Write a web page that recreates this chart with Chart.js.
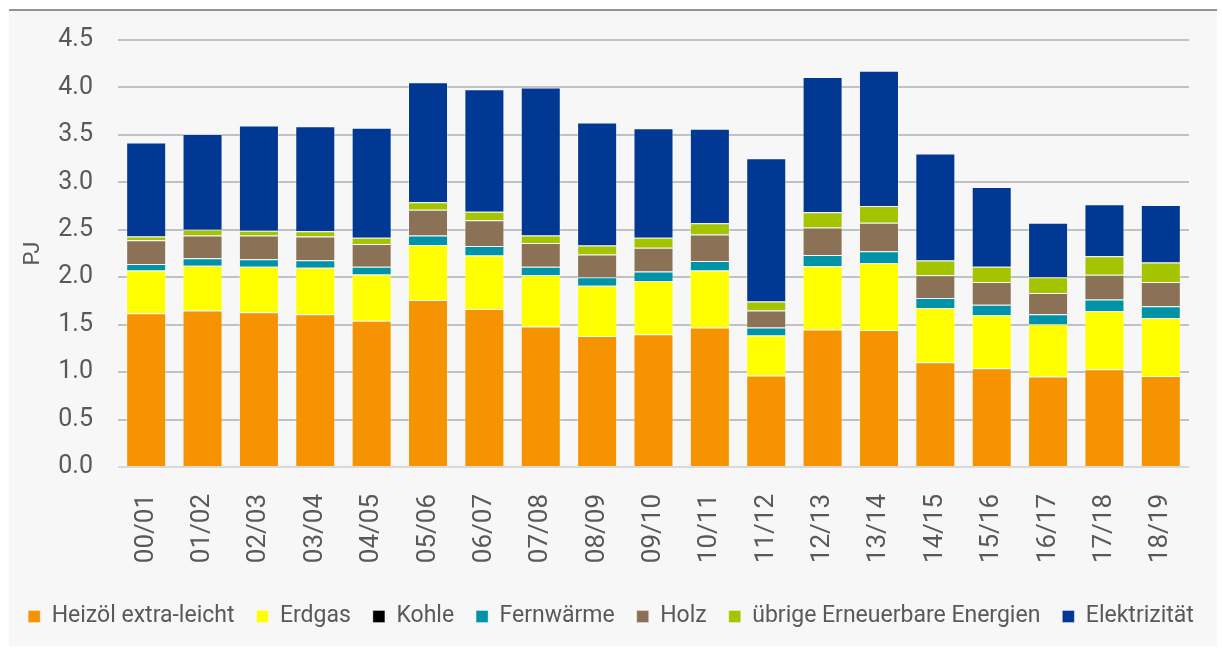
<!DOCTYPE html>
<html>
<head>
<meta charset="utf-8">
<script src="https://cdn.jsdelivr.net/npm/chart.js@4/dist/chart.umd.min.js"></script>
<style>
html,body{margin:0;padding:0;background:#ffffff;}
#wrap{position:absolute;left:0;top:0;width:1222px;height:648px;}
</style>
</head>
<body>
<div id="wrap"><canvas id="c" width="1222" height="648"></canvas></div>
<script>
const categories = ['00/01','01/02','02/03','03/04','04/05','05/06','06/07','07/08','08/09','09/10','10/11','11/12','12/13','13/14','14/15','15/16','16/17','17/18','18/19'];
const heizoel = [1.62,1.65,1.63,1.61,1.54,1.76,1.665,1.48,1.38,1.40,1.47,0.965,1.45,1.445,1.105,1.04,0.955,1.03,0.96];
const erdgas = [0.45,0.47,0.48,0.49,0.49,0.58,0.565,0.54,0.53,0.56,0.60,0.42,0.665,0.705,0.57,0.56,0.55,0.615,0.61];
const kohle = [0,0,0,0,0,0,0,0,0,0,0,0,0,0,0,0,0,0,0];
const fernwaerme = [0.07,0.08,0.08,0.08,0.08,0.10,0.10,0.09,0.09,0.10,0.10,0.085,0.12,0.125,0.105,0.11,0.105,0.12,0.125];
const holz = [0.25,0.24,0.25,0.25,0.24,0.27,0.27,0.25,0.24,0.25,0.28,0.18,0.29,0.30,0.24,0.24,0.225,0.26,0.255];
const uebrige = [0.04,0.06,0.05,0.055,0.065,0.08,0.09,0.08,0.095,0.105,0.12,0.095,0.16,0.175,0.155,0.16,0.165,0.195,0.205];
const elektrizitaet = [0.99,1.01,1.11,1.105,1.16,1.265,1.29,1.56,1.295,1.155,0.995,1.51,1.425,1.425,1.13,0.84,0.575,0.55,0.605];
const yTicks = [0,0.5,1.0,1.5,2.0,2.5,3.0,3.5,4.0,4.5];

const seriesNames = ['Heizöl extra-leicht','Erdgas','Kohle','Fernwärme','Holz','übrige Erneuerbare Energien','Elektrizität'];
const seriesData = [heizoel, erdgas, kohle, fernwaerme, holz, uebrige, elektrizitaet];
const seriesColors = ['#F59300','#FFFF00','#000000','#0093A8','#8B7155','#A5C400','#003893'];

const panel = {
  id: 'panel',
  beforeDraw(chart) {
    const ctx = chart.ctx;
    ctx.save();
    ctx.fillStyle = '#f7f7f7';
    ctx.fillRect(9, 10, 1208, 636);
    ctx.strokeStyle = '#6b7280';
    ctx.lineWidth = 1.5;
    ctx.beginPath();
    ctx.moveTo(9, 10);
    ctx.lineTo(1217, 10);
    ctx.stroke();
    ctx.restore();
  }
};

const fontFam = "Roboto, 'Liberation Sans', sans-serif";

new Chart(document.getElementById('c'), {
  type: 'bar',
  data: {
    labels: categories,
    datasets: seriesNames.map((n, i) => ({
      label: n,
      data: seriesData[i],
      backgroundColor: seriesColors[i],
      borderColor: 'rgba(255,255,255,0.35)',
      borderWidth: 1,
      barPercentage: 0.71,
      categoryPercentage: 1.0,
      yAxisID: 'y'
    }))
  },
  options: {
    responsive: false,
    devicePixelRatio: 1,
    animation: false,
    layout: { padding: { top: 39, right: 0, left: 0, bottom: 10 } },
    plugins: {
      legend: {
        position: 'bottom',
        labels: {
          font: { family: fontFam, size: 23 },
          color: '#595959',
          boxWidth: 12,
          boxHeight: 12,
          padding: 22
        }
      },
      tooltip: { enabled: false }
    },
    scales: {
      x: {
        stacked: true,
        grid: { display: false },
        border: { display: false },
        ticks: {
          font: { family: fontFam, size: 26 },
          color: '#595959',
          minRotation: 90,
          maxRotation: 90,
          padding: 19
        },
        afterFit(scale) { scale.height = 116; }
      },
      y: {
        stacked: true,
        position: 'left',
        min: 0,
        max: 4.5,
        afterBuildTicks(scale) { scale.ticks = yTicks.map(v => ({ value: v })); },
        ticks: {
          font: { family: fontFam, size: 25 },
          color: '#595959',
          padding: 25,
          callback: v => Number(v).toFixed(1)
        },
        grid: {
          drawTicks: false,
          lineWidth: 2,
          color: ctx => (ctx.tick && ctx.tick.value === 0) ? '#d9d9d9' : '#bfc1c4'
        },
        border: { display: false },
        title: {
          display: true,
          text: 'PJ',
          font: { family: fontFam, size: 22 },
          color: '#595959',
          padding: { top: 20, bottom: 0 }
        },
        afterFit(scale) { scale.width = 118; }
      },
      yRight: {
        position: 'right',
        min: 0,
        max: 4.5,
        ticks: { display: false },
        grid: { display: false, drawTicks: false },
        border: { display: false },
        afterFit(scale) { scale.width = 33; }
      }
    }
  },
  plugins: [panel]
});
</script>
</body>
</html>
